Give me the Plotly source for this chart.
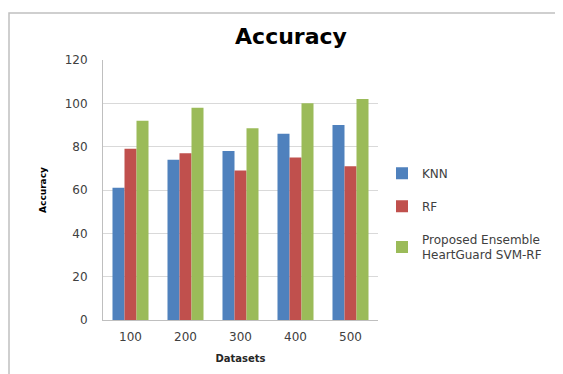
import plotly.graph_objects as go

categories = ["100", "200", "300", "400", "500"]
knn = [61, 74, 78, 86, 90]
rf = [79, 77, 69, 75, 71]
proposed = [92, 98, 88.5, 100, 102]
series_names = ["KNN", "RF", "Proposed Ensemble<br>HeartGuard SVM-RF"]
colors = ["#4F81BD", "#C0504D", "#9BBB59"]

FONT = "DejaVu Sans"
W, H = 555, 366  # page body has an 8px margin
PL, PR, PT, PB = 95, 370, 52, 312  # plot area in figure pixels
PW, PH = PR - PL, PB - PT

fig = go.Figure()
for i, (name, vals) in enumerate(zip(series_names, [knn, rf, proposed])):
    fig.add_trace(go.Bar(
        x=categories, y=vals, name=name, legendgroup=f"g{i}",
        marker=dict(color=colors[i], line=dict(width=0)),
    ))

fig.update_layout(
    width=W, height=H,
    margin=dict(l=PL, r=W - PR, t=PT, b=H - PB, autoexpand=False),
    paper_bgcolor="white", plot_bgcolor="white",
    barmode="group", bargap=0.345, bargroupgap=0,
    font=dict(family=FONT, size=12, color="#404040"),
    title=dict(text="<b>Accuracy</b>", x=283 / W, xanchor="center", y=1 - 28 / H,
               yanchor="middle", font=dict(family=FONT, size=22, color="#000000")),
    legend=dict(x=(382 - 8 - PL) / PW, xanchor="left", y=0.62, yanchor="top",
                font=dict(family=FONT, size=12, color="#404040"),
                tracegroupgap=14, bgcolor="rgba(0,0,0,0)"),
    xaxis=dict(
        showline=True, linecolor="#bfbfbf", linewidth=1,
        showgrid=False, ticks="", ticklabelstandoff=6,
        tickfont=dict(family=FONT, size=12, color="#404040"),
        title=dict(text="<b>Datasets</b>", standoff=11,
                   font=dict(family=FONT, size=10, color="#262626")),
        automargin=False,
    ),
    yaxis=dict(
        range=[0, 120], dtick=20, showline=True, linecolor="#bfbfbf", linewidth=1,
        showgrid=True, gridcolor="#d9d9d9", gridwidth=1, zeroline=False,
        ticks="", ticklabelstandoff=12,
        tickfont=dict(family=FONT, size=12, color="#404040"),
        title=dict(text="<b>Accuracy</b>", standoff=16,
                   font=dict(family=FONT, size=9, color="#000000")),
        automargin=False,
    ),
    shapes=[dict(type="rect", xref="paper", yref="paper",
                 x0=(1 - PL) / PW, x1=(554 - PL) / PW,
                 y0=(PB - 400) / PH, y1=(PB - 5) / PH,
                 line=dict(color="#c0c0c0", width=1.5), layer="below")],
)

fig.write_html("out.html")
